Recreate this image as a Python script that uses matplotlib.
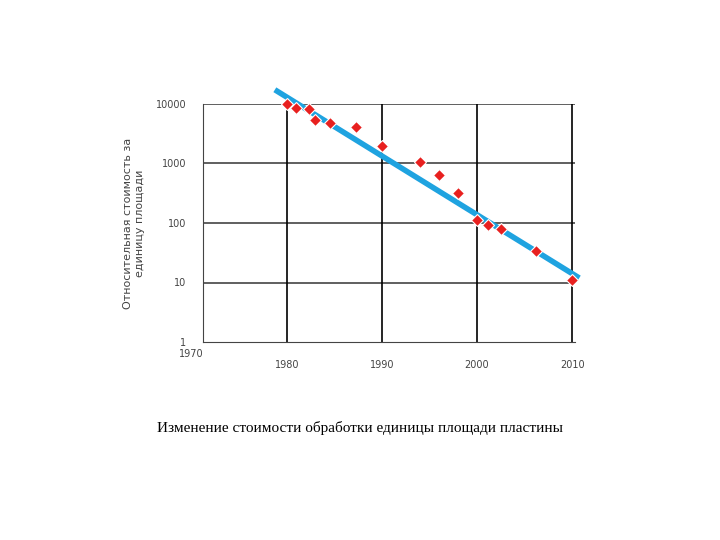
import matplotlib
matplotlib.use("Agg")
import matplotlib.pyplot as plt

years = [1980, 1981, 1982.3, 1983, 1984.5, 1987.3, 1990, 1994, 1996, 1998, 2000, 2001.2, 2002.5, 2006.2, 2010]
costs = [10000, 8600, 8200, 5400, 4800, 4100, 2000, 1040, 630, 316, 112, 92, 79, 34, 11]
fit_years = [1979, 2010.5]
fit_costs = [16400, 12.6]
xticks = [1970, 1980, 1990, 2000, 2010]
yticks = [1, 10, 100, 1000, 10000]
ylabels = ["1", "10", "100", "1000", "10000"]

fig = plt.figure(figsize=(7.2, 5.4), dpi=100)
ax = fig.add_axes([203/720, 1-342/540, 372/720, 238/540])
ax.set_yscale("log")
ax.set_xlim(1971.2, 2010.3)
ax.set_ylim(1, 10000)
for y in yticks[1:]:
    ax.axhline(y, color="#444444", lw=1.2, zorder=1)
for x in xticks[1:]:
    ax.axvline(x, color="black", lw=1.2, zorder=1)
ax.plot(fit_years, fit_costs, color="#1fa3e0", lw=4, clip_on=False, zorder=2)
ax.plot(years, costs, "D", color="#e8201f", ms=6, mec="white", mew=0.8, clip_on=False, zorder=3)
for s in ["top", "right"]:
    ax.spines[s].set_visible(False)
ax.spines["bottom"].set_color("#444444")
ax.spines["left"].set_color("#444444")
ax.set_xticks([x for x in xticks if x >= 1971.2])
ax.set_xticklabels([str(x) for x in xticks if x >= 1971.2])
ax.text(1970, 0.62, "1970", ha="center", va="center", fontsize=7, color="#444444")
ax.set_yticks(yticks)
ax.set_yticklabels(ylabels)
ax.minorticks_off()
ax.tick_params(length=0, labelsize=7, colors="#444444", pad=12)
ax.tick_params(axis="x", pad=13)
ax.set_ylabel("Относительная стоимость за\nединицу площади", fontsize=8, color="#444444", labelpad=8)
fig.text(0.5, 1-428/540, "Изменение стоимости обработки единицы площади пластины",
         ha="center", va="center", fontsize=11, family="Liberation Serif")
fig.savefig("out.png", dpi=100)
